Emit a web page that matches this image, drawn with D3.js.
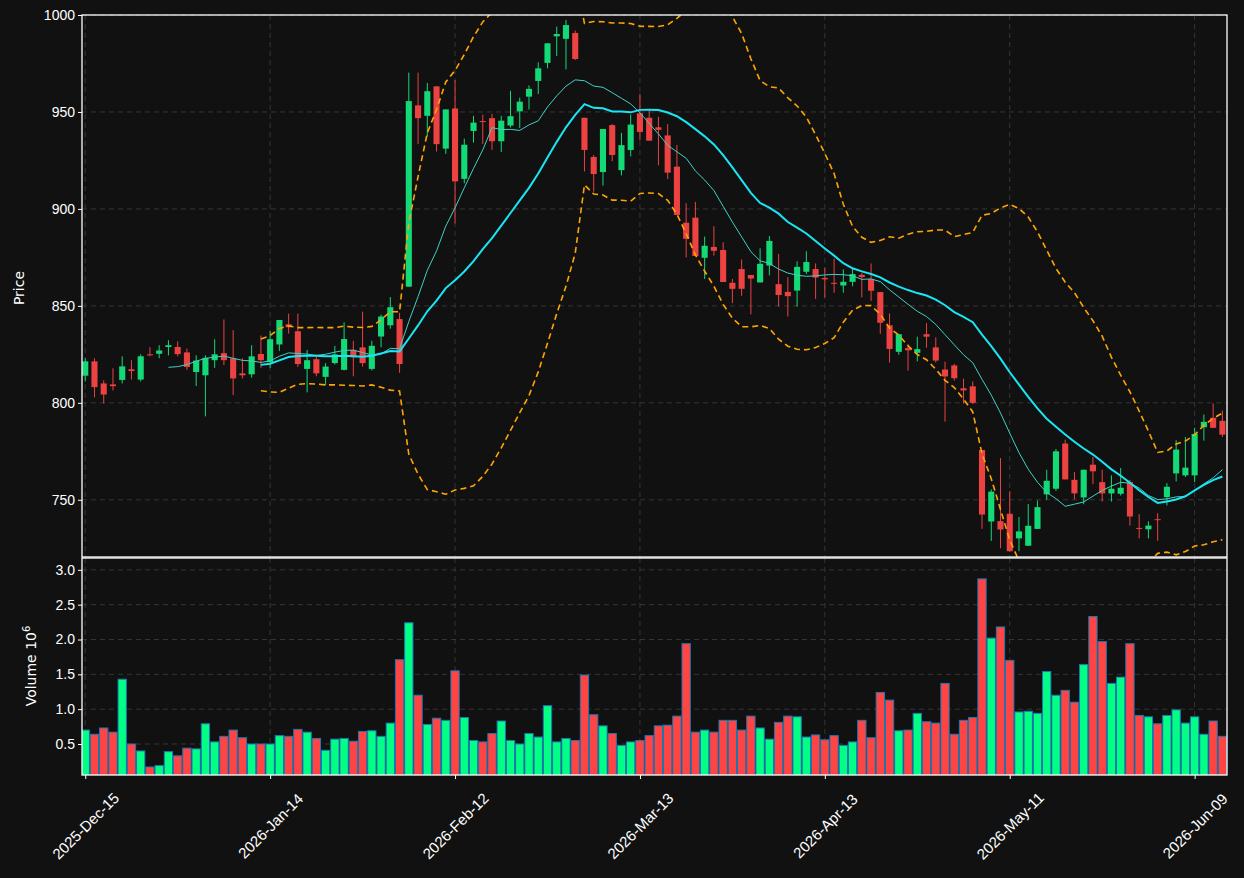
<!DOCTYPE html>
<html>
<head>
<meta charset="utf-8">
<script src="https://cdn.jsdelivr.net/npm/d3@7"></script>
<style>
  body { margin: 0; background: #111111; }
  svg { display: block; font-family: "DejaVu Sans", sans-serif; }
</style>
</head>
<body>
<svg id="chart" width="1244" height="878"></svg>
<script>
// daily candles, one per trading session
const opens  = [814,821.4,810,809.5,811.8,817.3,812,825,825.3,828.8,828.8,826,815.9,814.2,822,825.6,823,815.2,814.7,825.2,821,
  830.1,840.5,836.9,817.5,822.5,813.4,820.5,817,827.3,828.6,817.5,834.2,840,843.2,859.9,953.4,948,963.2,931.1,951.8,
  915.5,940.2,945.3,946.8,934.9,943,950.3,957.9,966,975.3,989,987.7,990.7,947,926.8,919,943.2,920,930.4,949.3,
  947,942.1,937.9,921.8,892.9,895.5,874.8,880.4,878.8,861.9,869,865.9,862.1,870.8,861.2,857.2,857.9,867.6,869,864.4,861.9,
  860.5,862.4,866,863.9,857.1,840,826.3,828.2,825.8,835.4,828.6,817.2,819.3,807.5,808.5,775.7,738.8,739,742.8,730.1,726.3,
  735,752.8,755.7,779,760.3,751.2,768.1,759.1,753.3,753.1,759.1,735.5,734.8,740,751.4,763.6,762.6,762.6,787.4,792.3,790.7];
const closes = [821.4,808.1,804.3,808.6,818.8,816.4,824,824.8,827,829.7,825.1,818.5,821.8,823.2,825,822,812.6,814.2,824,822,832.8,
  842.7,839,820,822,815.2,818.7,825,832.9,823.5,820.5,829.4,844.5,849.3,820,955.6,946.8,960.7,933.4,951.3,914.2,
  933.1,944.5,944.8,934.9,945.5,947.8,955.3,961.9,972.5,985.4,990.2,994.8,977.3,930.4,918,941.2,927.8,932.9,943.5,939.7,
  935.2,940.8,918.7,896.9,884.6,875.7,881,878.4,862.3,858.8,858.8,864.1,871.7,883.5,855.6,855,870.1,872.6,864.6,863.7,861.4,
  862.4,866.4,864.9,857.8,841.3,827.8,835.4,827.1,827.7,834.1,821.8,813.6,812.7,806.4,800,742.4,754.2,734.7,723.5,733.7,736.6,
  746.2,759.8,775,760.5,753.3,765.5,764.7,753.3,755.7,756.2,741.4,735,736.7,739.5,756.7,775.9,766.6,784,790.2,787.1,783.6];
const highs  = [823,823,811.6,817.8,824,822,825,828.7,829.7,832.3,831.7,828,824.5,824.5,832.8,843,837.5,823,829.7,834.7,837,
  842.7,846,846,827.3,824.8,820.5,829.4,841.5,832,847,832,845.5,854.6,846.5,970.3,970.3,965,963.2,951.3,966.5,
  936.2,948,948.6,949,948,960.9,957.4,963.7,975.6,985.4,994,997.5,992,947,927.8,941.2,943.8,939.2,948.6,959.4,
  951.5,947.5,943.7,933,902.9,903.6,885.7,891.1,882.8,863.9,873.9,865.9,879.7,886,876.8,864.8,873,878.2,871.9,869.7,874.4,
  868.8,869.2,867,871.9,857.1,846.1,835.4,830.3,834.1,841.1,833.7,821.2,820.1,812.5,811,775.7,755.4,771.5,754.4,741.1,747.8,
  749.6,765.5,776.2,781,764.3,765.5,772.1,765.5,762.6,766.4,760.3,742.6,738.9,743.1,758.6,780.7,782.4,787.1,794,799.7,796];
const lows   = [811,802.8,799.7,806.4,810,812,811,824,823,824.5,824,817,808.7,793,818,819.5,804,812.6,813,818,818,
  826.8,835.7,818.5,805.4,813.7,809,819.8,816.7,813.7,818.7,816.7,828.6,838.2,815.5,859.9,933.4,937.4,929.6,928.4,892.5,
  913.2,934.2,933.4,930.4,929.4,942,941.7,951.3,959.2,972.5,978.9,972,976.8,919.3,908.9,912,924.6,917.3,927.1,935.4,
  935.2,922.5,915.4,896.9,875,875.7,863.9,875.9,862.3,851.4,855.2,845.6,862.1,865.7,849.6,844.5,849.6,866.4,853.6,854.3,856.8,
  856.8,860.1,854.4,852.5,835.6,820.8,824.8,816.6,821.4,828.4,820.8,790.3,811.5,799.6,799.4,735,728.8,725,723.1,723.5,726.3,
  735,750,754.6,760.5,750.3,747.7,758.1,749.1,749.1,752.2,736.7,730.1,730.1,728.9,747.1,759.5,761.7,759.1,780.5,787.1,782.4];
// volume in millions
const volumes = [0.70,0.64,0.73,0.67,1.43,0.50,0.40,0.17,0.19,0.39,0.33,0.44,0.43,0.79,0.53,0.61,0.70,0.59,0.50,0.50,0.50,
  0.62,0.61,0.71,0.67,0.58,0.41,0.57,0.58,0.54,0.68,0.69,0.61,0.80,1.71,2.24,1.20,0.78,0.87,0.84,1.55,
  0.88,0.55,0.53,0.65,0.83,0.55,0.50,0.65,0.60,1.05,0.53,0.58,0.55,1.49,0.92,0.76,0.65,0.48,0.53,0.55,
  0.62,0.76,0.77,0.90,1.94,0.67,0.70,0.67,0.84,0.84,0.70,0.90,0.73,0.57,0.81,0.90,0.89,0.60,0.63,0.56,0.62,
  0.48,0.53,0.84,0.59,1.24,1.13,0.69,0.70,0.94,0.82,0.80,1.37,0.64,0.84,0.88,2.87,2.02,2.18,1.70,0.96,0.97,
  0.94,1.54,1.20,1.27,1.10,1.64,2.33,1.97,1.37,1.46,1.94,0.91,0.89,0.79,0.91,0.99,0.80,0.89,0.64,0.83,0.61];
const tickIndex  = [0, 20, 40, 60, 80, 100, 120];
const tickLabels = ["2025-Dec-15", "2026-Jan-14", "2026-Feb-12", "2026-Mar-13", "2026-Apr-13", "2026-May-11", "2026-Jun-09"];
const priceTicks = [750, 800, 850, 900, 950, 1000];
const volTicks = [0.5, 1.0, 1.5, 2.0, 2.5, 3.0];

const idx = d3.range(closes.length);
const sma = (n) => idx.map(i => i < n - 1 ? null : d3.mean(closes.slice(i - n + 1, i + 1)));
const sma10 = sma(10), sma20 = sma(20);
const sd20 = idx.map(i => i < 19 ? null : d3.deviation(closes.slice(i - 19, i + 1)) * Math.sqrt(19 / 20));
const bbUp = idx.map(i => sma20[i] == null ? null : sma20[i] + 2 * sd20[i]);
const bbLo = idx.map(i => sma20[i] == null ? null : sma20[i] - 2 * sd20[i]);

const svg = d3.select("#chart");
const L = 82, R = 1227, pTop = 15, pBot = 557, vTop = 558, vBot = 775;
const upC = "#13d977", dnC = "#ec4242", upV = "#00ff84", dnV = "#ff4444", grid = "#3a3a3a";

const x = d3.scaleLinear().domain([-0.35, 123.5]).range([L, R]);
const step = x(1) - x(0);
const y = d3.scaleLinear().domain([720.5, 1000]).range([pBot, pTop]);
const yv = d3.scaleLinear().domain([0.055, 3.17]).range([vBot, vTop]);

svg.append("rect").attr("width", 1244).attr("height", 878).attr("fill", "#111111");
const defs = svg.append("defs");
defs.append("clipPath").attr("id", "pc").append("rect").attr("x", L).attr("y", pTop).attr("width", R - L).attr("height", pBot - pTop);
defs.append("clipPath").attr("id", "vc").append("rect").attr("x", L).attr("y", vTop).attr("width", R - L).attr("height", vBot - vTop);

// grids
function grids(top, bot, yscale, ticks) {
  const g = svg.append("g").attr("stroke", grid).attr("stroke-dasharray", "5,4").attr("stroke-width", 0.9);
  g.selectAll(".gx").data(tickIndex).join("line")
    .attr("x1", d => x(d)).attr("x2", d => x(d)).attr("y1", top).attr("y2", bot);
  g.selectAll(".gy").data(ticks).join("line")
    .attr("x1", L).attr("x2", R).attr("y1", d => yscale(d)).attr("y2", d => yscale(d));
}
grids(pTop, pBot, y, priceTicks);
grids(vTop, vBot, yv, volTicks);

// candles
const pc = svg.append("g").attr("clip-path", "url(#pc)");
pc.selectAll(".wick").data(idx).join("line")
  .attr("x1", i => x(i)).attr("x2", i => x(i))
  .attr("y1", i => y(highs[i])).attr("y2", i => y(lows[i]))
  .attr("stroke", i => closes[i] >= opens[i] ? upC : dnC).attr("stroke-width", 1);
pc.selectAll(".body").data(idx).join("rect")
  .attr("x", i => x(i) - step * 0.33).attr("width", step * 0.66)
  .attr("y", i => y(Math.max(opens[i], closes[i])))
  .attr("height", i => Math.max(1, Math.abs(y(opens[i]) - y(closes[i]))))
  .attr("fill", i => closes[i] >= opens[i] ? upC : dnC);

const line = d3.line().defined(d => d != null).x((d, i) => x(i)).y(d => y(d));
pc.append("path").datum(sma10).attr("d", line).attr("fill", "none").attr("stroke", "#3fd1c4").attr("stroke-width", 1);
pc.append("path").datum(sma20).attr("d", line).attr("fill", "none").attr("stroke", "#19e6f5").attr("stroke-width", 2);
[bbUp, bbLo].forEach(s => pc.append("path").datum(s).attr("d", line).attr("fill", "none")
  .attr("stroke", "#ffa500").attr("stroke-width", 1.6).attr("stroke-dasharray", "6,4"));

// volume
const vc = svg.append("g").attr("clip-path", "url(#vc)");
vc.selectAll("rect").data(idx).join("rect")
  .attr("x", i => x(i) - step * 0.45).attr("width", step * 0.9)
  .attr("y", i => yv(volumes[i])).attr("height", i => yv(0) - yv(volumes[i]))
  .attr("fill", i => closes[i] >= opens[i] ? upV : dnV)
  .attr("stroke", "#1f77b4").attr("stroke-width", 1);

// frames and axes
[[pTop, pBot], [vTop, vBot]].forEach(([t, b]) => svg.append("rect")
  .attr("x", L).attr("y", t).attr("width", R - L).attr("height", b - t)
  .attr("fill", "none").attr("stroke", "#ffffff").attr("stroke-width", 1.3));

function yAxis(scale, ticks, fmt) {
  const g = svg.append("g").attr("transform", `translate(${L},0)`)
    .call(d3.axisLeft(scale).tickValues(ticks).tickFormat(fmt).tickSize(4).tickPadding(3));
  g.select(".domain").remove();
  g.selectAll("line").attr("stroke", "#fff");
  g.selectAll("text").attr("fill", "#fff").style("font-size", "14px");
}
yAxis(y, priceTicks, d3.format("d"));
yAxis(yv, volTicks, d3.format(".1f"));

const xa = svg.append("g").attr("transform", `translate(0,${vBot})`)
  .call(d3.axisBottom(x).tickValues(tickIndex).tickFormat((d, i) => tickLabels[i]).tickSize(4));
xa.select(".domain").remove();
xa.selectAll("line").attr("stroke", "#fff");
xa.selectAll("text").attr("fill", "#fff").style("font-size", "15px")
  .attr("text-anchor", "middle").attr("y", 0).attr("dy", "0.35em")
  .attr("transform", "translate(0,51) rotate(-45)");

svg.append("text").attr("transform", `translate(24,288) rotate(-90)`).attr("text-anchor", "middle")
  .attr("fill", "#fff").style("font-size", "14px").text("Price");
const vl = svg.append("text").attr("transform", `translate(36,666) rotate(-90)`).attr("text-anchor", "middle")
  .attr("fill", "#fff").style("font-size", "14px");
vl.append("tspan").text("Volume  10");
vl.append("tspan").attr("dy", -6).style("font-size", "10px").text("6");
</script>
</body>
</html>
